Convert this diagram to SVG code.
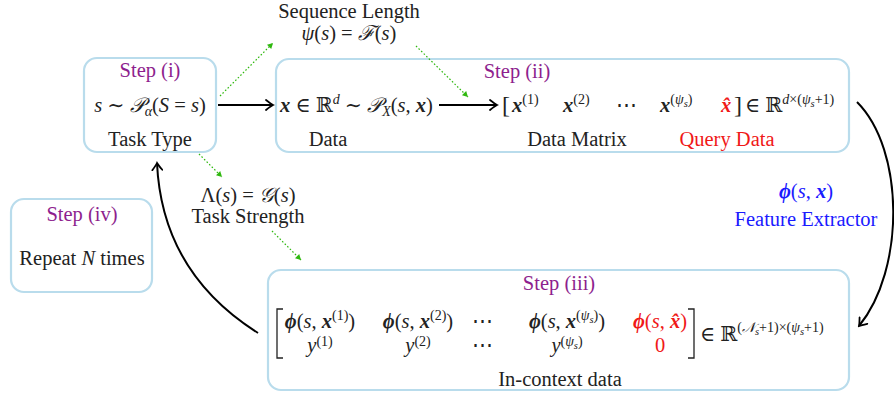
<svg xmlns="http://www.w3.org/2000/svg" width="894" height="398" viewBox="0 0 894 398">
<defs>
<style>
text{font-family:"Liberation Serif","DejaVu Serif",serif;font-size:20.5px;fill:#222}
.box{fill:#fff;stroke:#b9dcec;stroke-width:2.2}
.step{fill:#8e1f8e}
.red{fill:#f01818}
.blue{fill:#1a1aff}
.i{font-style:italic}
.b{font-style:italic;font-weight:bold}
.sup{font-size:14px}
.sub{font-size:10.5px}
.m{text-anchor:middle}
.conn{fill:none;stroke:#000;stroke-width:2}
.dot{fill:none;stroke:#2fb80f;stroke-width:1.2;stroke-dasharray:1.6 2}
</style>
<marker id="ah" viewBox="-8 -6 10 12" markerWidth="10" markerHeight="12" refX="0" refY="0" orient="auto" markerUnits="userSpaceOnUse">
<path d="M-7,-5 Q-2,-1 0,0 Q-2,1 -7,5" fill="none" stroke="#000" stroke-width="1.8" stroke-linecap="round"/>
</marker>
<marker id="gh" viewBox="-6 -4 7 8" markerWidth="7" markerHeight="8" refX="0" refY="0" orient="auto" markerUnits="userSpaceOnUse">
<path d="M-5.5,-3 L0,0 L-5.5,3 Z" fill="#2fb80f"/>
</marker>
</defs>

<g id="step1">
<rect class="box" x="84" y="58" width="132" height="94" rx="13"/>
<text class="step m" x="150" y="77">Step (i)</text>
<text class="m" x="150" y="112"><tspan class="i">s</tspan> ∼ <tspan class="i">𝒫</tspan><tspan class="i sup" dy="4">α</tspan><tspan dy="-4">(</tspan><tspan class="i">S</tspan> = <tspan class="i">s</tspan>)</text>
<text class="m" x="150" y="146">Task Type</text>
</g>

<g id="seqlen">
<text class="m" x="349" y="18">Sequence Length</text>
<text class="m" x="349" y="40"><tspan class="i">ψ</tspan>(<tspan class="i">s</tspan>) = <tspan class="i">ℱ</tspan>(<tspan class="i">s</tspan>)</text>
</g>

<g id="step2">
<rect class="box" x="276" y="59" width="573" height="93" rx="13"/>
<text class="step m" x="517" y="78">Step (ii)</text>
<text x="280" y="112"><tspan class="b">x</tspan> ∈ ℝ<tspan class="i sup" dy="-8">d</tspan><tspan dy="8"> ∼ </tspan><tspan class="i">𝒫</tspan><tspan class="i sup" dy="4">X</tspan><tspan dy="-4">(</tspan><tspan class="i">s</tspan>, <tspan class="b">x</tspan>)</text>
<text x="502" y="113" style="font-size:24px">[</text>
<text x="512" y="112"><tspan class="b">x</tspan><tspan class="sup" dy="-8">(1)</tspan></text>
<text x="563" y="112"><tspan class="b">x</tspan><tspan class="sup" dy="-8">(2)</tspan></text>
<text class="m" x="626" y="112">⋯</text>
<text x="660" y="112"><tspan class="b">x</tspan><tspan class="sup" dy="-8">(</tspan><tspan class="sup i">ψ</tspan><tspan class="sub i" dy="3">s</tspan><tspan class="sup" dy="-3">)</tspan></text>
<text class="b red" x="721" y="112">x&#x302;</text>
<text x="734" y="113" style="font-size:24px">]</text>
<text x="745" y="112">∈ ℝ<tspan class="sup" dy="-8"><tspan class="i">d</tspan>×(<tspan class="i">ψ</tspan><tspan class="sub i" dy="3">s</tspan><tspan dy="-3">+1)</tspan></tspan></text>
<text class="m" x="328" y="146">Data</text>
<text class="m" x="577" y="146">Data Matrix</text>
<text class="m red" x="727" y="146">Query Data</text>
</g>

<g id="strength">
<text class="m" x="248" y="202">Λ(<tspan class="i">s</tspan>) = <tspan class="i">𝒢</tspan>(<tspan class="i">s</tspan>)</text>
<text class="m" x="248" y="223">Task Strength</text>
</g>

<g id="feature">
<text class="m blue" x="806" y="198"><tspan class="b">ϕ</tspan>(<tspan class="i">s</tspan>, <tspan class="b">x</tspan>)</text>
<text class="m blue" x="806" y="226">Feature Extractor</text>
</g>

<g id="step4">
<rect class="box" x="11" y="199" width="141" height="93" rx="13"/>
<text class="step m" x="82" y="221">Step (iv)</text>
<text class="m" x="82" y="265">Repeat <tspan class="i">N</tspan> times</text>
</g>

<g id="step3">
<rect class="box" x="268" y="270" width="581" height="120" rx="13"/>
<text class="step m" x="559" y="290">Step (iii)</text>
<path d="M283,309 L277,309 L277,358 L283,358" fill="none" stroke="#222" stroke-width="1.3"/>
<path d="M688,309 L694,309 L694,358 L688,358" fill="none" stroke="#222" stroke-width="1.3"/>
<text class="m" x="320" y="328"><tspan class="b">ϕ</tspan>(<tspan class="i">s</tspan>, <tspan class="b">x</tspan><tspan class="sup" dy="-8">(1)</tspan><tspan dy="8">)</tspan></text>
<text class="m" x="320" y="352"><tspan class="i">y</tspan><tspan class="sup" dy="-6">(1)</tspan></text>
<text class="m" x="418" y="328"><tspan class="b">ϕ</tspan>(<tspan class="i">s</tspan>, <tspan class="b">x</tspan><tspan class="sup" dy="-8">(2)</tspan><tspan dy="8">)</tspan></text>
<text class="m" x="418" y="352"><tspan class="i">y</tspan><tspan class="sup" dy="-6">(2)</tspan></text>
<text class="m" x="482" y="328">⋯</text>
<text class="m" x="482" y="352">⋯</text>
<text class="m" x="567" y="328"><tspan class="b">ϕ</tspan>(<tspan class="i">s</tspan>, <tspan class="b">x</tspan><tspan class="sup" dy="-8">(</tspan><tspan class="sup i">ψ</tspan><tspan class="sub i" dy="3">s</tspan><tspan class="sup" dy="-3">)</tspan><tspan dy="8">)</tspan></text>
<text class="m" x="567" y="352"><tspan class="i">y</tspan><tspan class="sup" dy="-6">(</tspan><tspan class="sup i">ψ</tspan><tspan class="sub i" dy="3">s</tspan><tspan class="sup" dy="-3">)</tspan></text>
<text class="m red" x="660" y="328"><tspan class="b red">ϕ</tspan>(<tspan class="i red">s</tspan>, <tspan class="b red">x&#x302;</tspan>)</text>
<text class="m red" x="660" y="352">0</text>
<text x="700" y="341">∈ ℝ<tspan class="sup" dy="-9">(<tspan class="i">𝒩</tspan><tspan class="sub i" dy="3">s</tspan><tspan dy="-3">+1)×(</tspan><tspan class="i">ψ</tspan><tspan class="sub i" dy="3">s</tspan><tspan dy="-3">+1)</tspan></tspan></text>
<text class="m" x="560" y="386">In-context data</text>
</g>

<g id="connectors">
<path class="conn" d="M218,105 L273,105" marker-end="url(#ah)"/>
<path class="conn" d="M439,105 L497,105" marker-end="url(#ah)"/>
<path class="conn" d="M857,102 C905,150 905,270 859,326" marker-end="url(#ah)"/>
<path class="conn" d="M258,333 C190,290 160,230 157,163" marker-end="url(#ah)"/>
<path class="dot" d="M220,96 L273,43" marker-end="url(#gh)"/>
<path class="dot" d="M416,46 L468,97" marker-end="url(#gh)"/>
<path class="dot" d="M199,154 L222,177" marker-end="url(#gh)"/>
<path class="dot" d="M272,231 L301,260" marker-end="url(#gh)"/>
</g>
</svg>
